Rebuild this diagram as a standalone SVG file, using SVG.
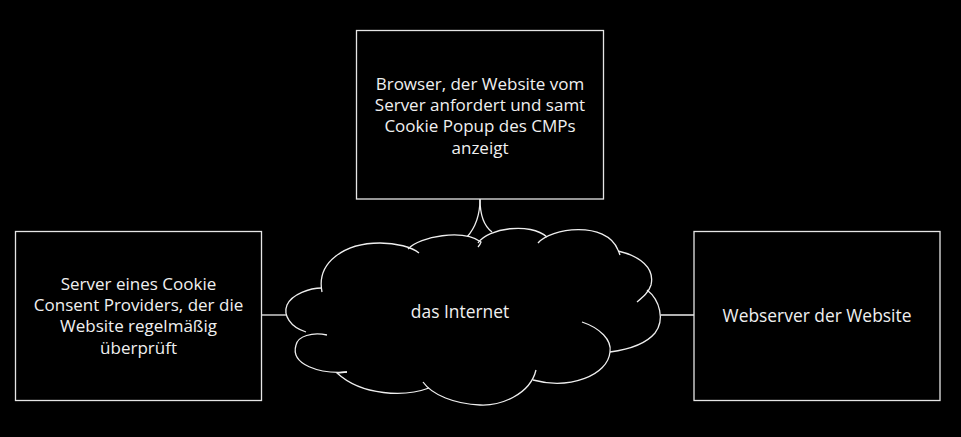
<svg xmlns="http://www.w3.org/2000/svg" width="961" height="437" viewBox="0 0 961 437">
<style>
.box{fill:#000;stroke:#e6e6e6;stroke-width:1.3}
.ln{fill:none;stroke:#eeeeee;stroke-width:1.3}
text{font-family:"Open Sans","Noto Sans","Liberation Sans",sans-serif;font-size:17.4px;fill:#f0f0f0;text-anchor:middle}
.ml{font-size:17px}
</style>
<rect width="961" height="437" fill="#000"/>
<g id="connectors">
<path class="ln" d="M262,315 L287,315"/>
<path class="ln" d="M660,315 L694,315"/>
<path class="ln" d="M480,199 C480,215 475,228 467,237"/>
<path class="ln" d="M480,199 C480,215 484,226 492,232"/>
</g>
<g id="browser">
<rect class="box" x="356.5" y="30.5" width="247" height="168.5"/>
<text class="ml" x="480" y="89.5"><tspan x="480" y="89.5">Browser, der Website vom</tspan><tspan x="480" y="111">Server anfordert und samt</tspan><tspan x="480" y="132">Cookie Popup des CMPs</tspan><tspan x="480" y="153.5">anzeigt</tspan></text>
</g>
<g id="cmp-server">
<rect class="box" x="15.5" y="231.5" width="246" height="169"/>
<text class="ml" x="138.5" y="289.5"><tspan x="138.5" y="289.5">Server eines Cookie</tspan><tspan x="138.5" y="311">Consent Providers, der die</tspan><tspan x="138.5" y="332">Website regelmäßig</tspan><tspan x="138.5" y="353.5">überprüft</tspan></text>
</g>
<g id="webserver">
<rect class="box" x="694" y="231.5" width="246" height="169"/>
<text x="817" y="321.5">Webserver der Website</text>
</g>
<g id="internet">
<path fill="#000" d="M322,291 C316,262 345,243 380,243 C396,243 405,246 412,250 C425,236 462,228 480,242 C490,228 530,222 543,236 C555,226 606,220 618,251 C640,256 655,268 651,285 C660,300 665,320 655,333 C645,345 625,350 610,352 C608,375 570,388 536,375 C530,395 500,406 480,405 C455,404 432,395 425,388 C400,398 360,395 340,374 C320,374 290,365 296,345 C298,338 302,334 306,332 C290,327 283,315 287,305 C292,294 310,288 322,291 Z"/>
<path class="ln" d="M322,292 C316,262 345,243 380,243 C396,243 412,247 419,253"/>
<path class="ln" d="M408,249 C420,236 463,229 481,242 Q480,245 478,247"/>
<path class="ln" d="M478,243 C488,228 530,222 547,237"/>
<path class="ln" d="M538,243 C550,228 606,220 618,250 Q619,252 620,255"/>
<path class="ln" d="M618,251 C640,256 655,268 651,285 C649,292 643,297 637,302"/>
<path class="ln" d="M647,290 C660,300 665,320 655,333 C645,345 625,350 610,352"/>
<path class="ln" d="M582,322 C600,328 612,340 610,352 C608,375 570,390 533,380"/>
<path class="ln" d="M536,370 C530,395 500,406 480,405 C455,404 432,395 423,382"/>
<path class="ln" d="M429,388 C405,397 362,396 337,373 L347,372"/>
<path class="ln" d="M347,372 C320,374 290,365 296,345 C298,336 312,332 327,335"/>
<path class="ln" d="M306,332 C290,327 283,315 287,305 C292,294 310,288 322,288"/>
<text x="460" y="318">das Internet</text>
</g>
</svg>
